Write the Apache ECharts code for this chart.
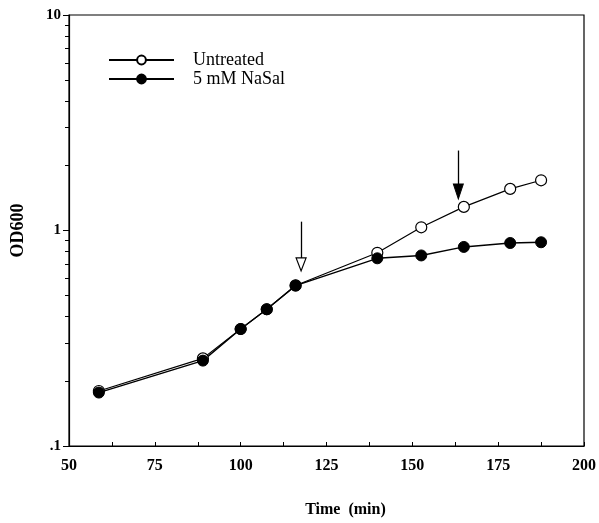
<!DOCTYPE html>
<html>
<head>
<meta charset="utf-8">
<script src="https://cdn.jsdelivr.net/npm/echarts@6/dist/echarts.min.js"></script>
<style>
  html, body { margin: 0; padding: 0; background: #fff; }
  #chart { width: 599px; height: 523px; }
</style>
</head>
<body>
<div id="chart"></div>
<script>
// 数据
const timeMin = [58.7, 89, 100, 107.6, 116, 139.8, 152.6, 165, 178.5, 187.5]
const untreated = [0.180, 0.255, 0.349, 0.431, 0.556, 0.788, 1.035, 1.287, 1.56, 1.71]
const nasal = [0.177, 0.249, 0.349, 0.431, 0.555, 0.743, 0.766, 0.839, 0.875, 0.882]
const xTicks = [50, 75, 100, 125, 150, 175, 200]
const yMajor = [0.1, 1, 10]
const yMinor = [0.2, 0.3, 0.4, 0.5, 0.6, 0.7, 0.8, 0.9, 2, 3, 4, 5, 6, 7, 8, 9]
// 箭头：[x, 起点, 箭杆终点, 箭头中心]
const arrowOpen = [117.6, 1.099, 0.745, 0.696]
const arrowFilled = [163.4, 2.35, 1.64, 1.515]

const FONT = '"Liberation Serif", "DejaVu Serif", serif'
const TRI = 'path://M0,0 L10,0 L5,14 Z'

const pair = (xs, ys) => xs.map((x, i) => [x, ys[i]])

let chart = echarts.init(document.getElementById('chart'))

let option = {
  animation: false,
  backgroundColor: '#fff',
  textStyle: { fontFamily: FONT, color: '#000' },
  grid: {
    left: 69, right: 14, top: 15, bottom: 70,
    show: true, borderColor: '#000', borderWidth: 1.2
  },
  legend: {
    left: 108, top: 51,
    padding: 0,
    orient: 'vertical',
    itemWidth: 65, itemHeight: 11,
    itemGap: 1,
    textStyle: { fontFamily: FONT, fontSize: 18, color: '#000', padding: [0, 0, 0, 14] },
    data: ['Untreated', '5 mM NaSal']
  },
  xAxis: {
    type: 'value',
    min: 50, max: 200, interval: 12.5,
    name: 'Time  (min)',
    nameLocation: 'middle',
    nameGap: 56,
    nameTextStyle: { fontFamily: FONT, fontWeight: 'bold', fontSize: 16, color: '#000', padding: [0, 0, 0, 38] },
    axisLine: { lineStyle: { color: '#000', width: 1.2 } },
    axisTick: { inside: true, length: 4, lineStyle: { color: '#000' } },
    axisLabel: {
      customValues: xTicks,
      margin: 12,
      fontFamily: FONT, fontWeight: 'bold', fontSize: 16, color: '#000'
    },
    splitLine: { show: false }
  },
  yAxis: [
    {
      type: 'log', logBase: 10,
      min: 0.1, max: 10,
      name: 'OD600',
      nameLocation: 'middle',
      nameGap: 42,
      nameRotate: 90,
      nameTextStyle: { fontFamily: FONT, fontWeight: 'bold', fontSize: 18, color: '#000' },
      axisLine: { lineStyle: { color: '#000', width: 1.2 } },
      axisTick: { customValues: yMajor, length: 6, lineStyle: { color: '#000' } },
      axisLabel: {
        customValues: yMajor,
        margin: 8,
        fontFamily: FONT, fontWeight: 'bold', fontSize: 15, color: '#000',
        formatter: (v) => v < 0.5 ? '.1' : String(Math.round(v))
      },
      splitLine: { show: false }
    },
    {
      type: 'log', logBase: 10,
      min: 0.1, max: 10,
      position: 'left',
      axisLine: { show: false },
      axisTick: { show: true, customValues: yMinor, length: 4, lineStyle: { color: '#000' } },
      axisLabel: { show: false },
      splitLine: { show: false }
    }
  ],
  series: [
    {
      name: 'Untreated',
      type: 'line',
      data: pair(timeMin, untreated),
      symbol: 'circle',
      symbolSize: 11,
      lineStyle: { color: '#000', width: 1.2 },
      itemStyle: { color: '#fff', borderColor: '#000', borderWidth: 1.2 }
    },
    {
      name: '5 mM NaSal',
      type: 'line',
      data: pair(timeMin, nasal),
      symbol: 'circle',
      symbolSize: 11,
      lineStyle: { color: '#000', width: 1.4 },
      itemStyle: { color: '#000', borderColor: '#000', borderWidth: 1 },
      markLine: {
        silent: true,
        symbol: ['none', 'none'],
        label: { show: false },
        lineStyle: { color: '#000', width: 1.3, type: 'solid' },
        data: [
          [{ coord: [arrowOpen[0], arrowOpen[1]] }, { coord: [arrowOpen[0], arrowOpen[2]] }],
          [{ coord: [arrowFilled[0], arrowFilled[1]] }, { coord: [arrowFilled[0], arrowFilled[2]] }]
        ]
      },
      markPoint: {
        silent: true,
        label: { show: false },
        data: [
          {
            coord: [arrowOpen[0], arrowOpen[3]],
            symbol: TRI, symbolSize: [10, 13],
            itemStyle: { color: '#fff', borderColor: '#000', borderWidth: 1.2 }
          },
          {
            coord: [arrowFilled[0], arrowFilled[3]],
            symbol: TRI, symbolSize: [10, 15],
            itemStyle: { color: '#000', borderColor: '#000', borderWidth: 1 }
          }
        ]
      }
    }
  ]
}

chart.setOption(option)
</script>
</body>
</html>
